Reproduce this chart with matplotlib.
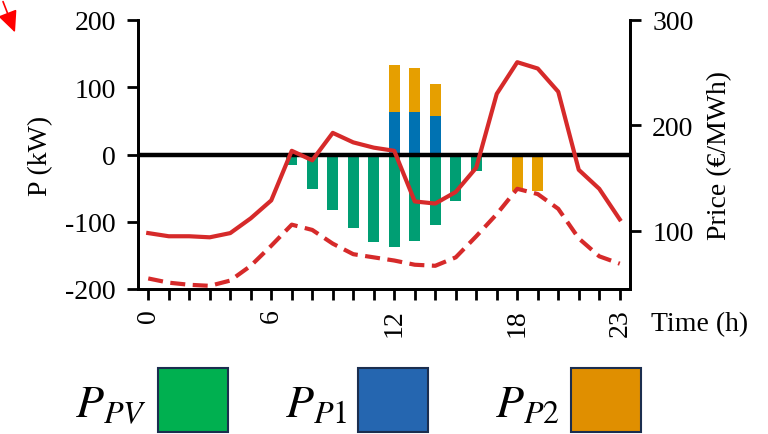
import matplotlib.pyplot as plt
from matplotlib.patches import Rectangle

hours = list(range(24))
price_solid = [98, 95, 95, 94, 98, 112, 129, 176, 167, 193, 184, 179, 176, 128,
               126, 137, 160, 230, 260, 254, 232, 158, 140, 111]
price_dashed = [55, 51, 49, 48, 53, 67, 86, 106, 101, 88, 78, 75, 72, 68,
                67, 75, 95, 116, 140, 135, 121, 93, 76, 69]
p_pv = [0, 0, 0, 0, 0, 0, 0, -16, -51, -82, -109, -130, -138, -128,
        -105, -69, -25, 0, 0, 0, 0, 0, 0, 0]
p_p1 = [0, 0, 0, 0, 0, 0, 0, 0, 0, 0, 0, 0, 63, 63,
        57, 0, 0, 0, 0, 0, 0, 0, 0, 0]
p_p2 = [0, 0, 0, 0, 0, 0, 0, 0, 0, 0, 0, 0, 70, 65,
        48, 0, 0, 0, -55, -55, 0, 0, 0, 0]
xtick_labels = {0: '0', 6: '6', 12: '12', 18: '18', 23: '23'}
legend_labels = ['$P_{PV}$', '$P_{P1}$', '$P_{P2}$']

plt.rcParams['font.family'] = ['Liberation Serif', 'DejaVu Serif']
plt.rcParams['mathtext.fontset'] = 'stix'
plt.rcParams['axes.unicode_minus'] = False

c_pv, c_p1, c_p2 = '#009E73', '#0072B2', '#E69F00'
red = '#D62A2A'

fig = plt.figure(figsize=(7.68, 4.35), dpi=100)
ax = fig.add_axes([138/768, 1-290/435, 492/768, 269/435])

# stacked bars: P1 on top of zero, P2 on top of P1 (positive) or below zero (negative)
p2_base = [a if b > 0 else 0 for a, b in zip(p_p1, p_p2)]
ax.bar(hours, p_pv, width=0.52, color=c_pv, zorder=2)
ax.bar(hours, p_p1, width=0.52, color=c_p1, zorder=2)
ax.bar(hours, p_p2, width=0.52, bottom=p2_base, color=c_p2, zorder=2)
ax.axhline(0, color='black', lw=3.2, zorder=3)

ax.set_xlim(-0.5, 23.5)
ax.set_ylim(-200, 200)
ax.set_yticks([-200, -100, 0, 100, 200])
ax.set_xticks(hours)
ax.set_xticklabels([xtick_labels.get(h, '') for h in hours], rotation=90)
ax.set_ylabel('P (kW)', fontsize=20, labelpad=9)
ax.text(1.142, -0.13, 'Time (h)', transform=ax.transAxes, fontsize=20,
        ha='center', va='center')

ax2 = ax.twinx()
ax2.plot(hours, price_solid, color=red, lw=3, zorder=4)
ax2.plot(hours, price_dashed, color=red, lw=3, dashes=(3.6, 1.8), zorder=4)
ax2.set_ylim(45, 300)
ax2.set_yticks([100, 200, 300])
ax2.set_ylabel('Price (€/MWh)', fontsize=20, labelpad=10)

for a in (ax, ax2):
    a.spines['top'].set_visible(False)
    for s in ('left', 'right', 'bottom'):
        a.spines[s].set_linewidth(2)
    a.tick_params(direction='out', length=8, width=2, labelsize=20, pad=8)
ax.tick_params(axis='x', length=8, pad=6)

# legend drawn as text + boxes under the plot
lx = [75, 285, 495]
bx = [158, 358, 571]
for lab, x, b, fc in zip(legend_labels, lx, bx, ['#00B050', '#2566B0', '#E08F00']):
    fig.text(x/768, 1-417/435, lab, fontsize=33, ha='left', va='baseline')
    fig.add_artist(Rectangle((b/768, 1-433/435), 70/768, 64/435,
                             transform=fig.transFigure, facecolor=fc,
                             edgecolor='#1B2E4F', lw=1.5))

ax.annotate('', xy=(16/768, 1-36/435), xytext=(2/768, 1.0),
            xycoords='figure fraction', textcoords='figure fraction',
            arrowprops=dict(arrowstyle='-|>,head_length=1.3,head_width=0.6',
                            color='red', lw=1.2))

fig.savefig('out.png', dpi=100)
